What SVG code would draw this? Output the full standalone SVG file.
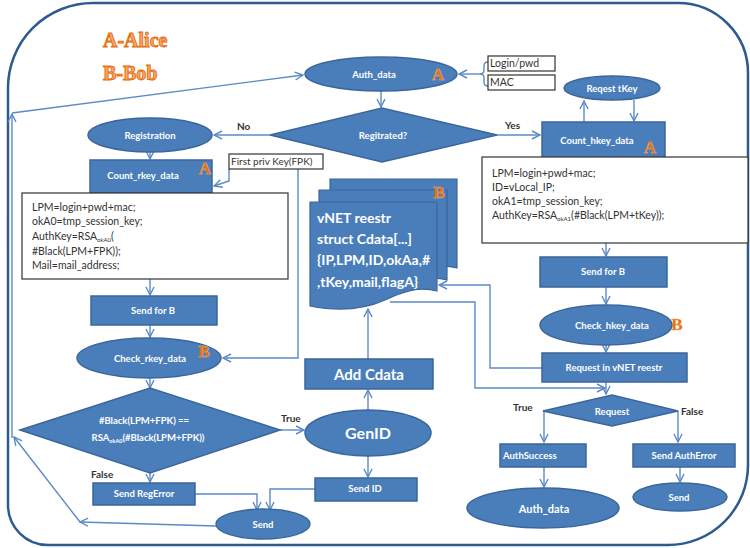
<svg xmlns="http://www.w3.org/2000/svg" width="750" height="548" viewBox="0 0 750 548">
<defs>
<marker id="ar" viewBox="0 0 10 10" refX="9" refY="5" markerWidth="10" markerHeight="10" markerUnits="userSpaceOnUse" orient="auto">
<path d="M1,1 L9,5 L1,9" fill="none" stroke="#5B8AC5" stroke-width="1.4"/>
</marker>
<style>
.n{fill:#4A7EBB;stroke:#3A669C;stroke-width:1.5}
.doc{fill:#4A7EBB;stroke:#3A669C;stroke-width:1.2}
.tb{fill:#fff;stroke:#333;stroke-width:1.2}
.c{fill:none;stroke:#5B8AC5;stroke-width:1.4}
.w{font-family:Lato,"Liberation Sans",sans-serif;font-weight:bold;fill:#fff;font-size:9.5px;text-anchor:middle}
.ws{text-anchor:start}
.k{font-family:Lato,"Liberation Sans",sans-serif;fill:#333;font-size:10.5px}
.lb{font-family:Lato,"Liberation Sans",sans-serif;font-weight:bold;fill:#333;font-size:10px}
.mk{font-family:"Liberation Serif",serif;font-weight:bold;fill:#E46C0A;font-size:17px;text-anchor:middle;stroke:#F9A65A;stroke-width:0.5}
.ttl{font-family:"Liberation Serif",serif;font-weight:bold;fill:#F9A868;stroke:#E46C0A;stroke-width:0.9;font-size:20px}
</style>
</defs>
<rect width="750" height="548" fill="#fff"/>
<path id="frame" d="M8,88 A85,85 0 0 1 93,3 H678 A70,70 0 0 1 748,73 V465 A80,80 0 0 1 668,545 H48 A40,40 0 0 1 8,505 Z" fill="none" stroke="#2E5A8E" stroke-width="2.5"/>
<text class="ttl" x="103" y="47">A-Alice</text>
<text class="ttl" x="103" y="80">B-Bob</text>

<g id="connectors">
<path class="c" d="M381,91 V107" marker-end="url(#ar)"/>
<path class="c" d="M488,62 Q484,62 484,66 L484,70 Q484,74 480,74 Q484,74 484,78 L484,82 Q484,86 488,86"/>
<path class="c" d="M480,74 H459" marker-end="url(#ar)"/>
<path class="c" d="M270,135 H214" marker-end="url(#ar)"/>
<path class="c" d="M497,135 H540" marker-end="url(#ar)"/>
<path class="c" d="M584,122 V101" marker-end="url(#ar)"/>
<path class="c" d="M634,100 V121" marker-end="url(#ar)"/>
<path class="c" d="M606,243 V256" marker-end="url(#ar)"/>
<path class="c" d="M606,287 V304" marker-end="url(#ar)"/>
<path class="c" d="M606,345 V352" marker-end="url(#ar)"/>
<path class="c" d="M542,368 H490 V285 H439" marker-end="url(#ar)"/>
<path class="c" d="M390,302 H475 V388 H605" marker-end="url(#ar)"/>
<path class="c" d="M606,382 V394" marker-end="url(#ar)"/>
<path class="c" d="M544,411 V442" marker-end="url(#ar)"/>
<path class="c" d="M678,411 V442" marker-end="url(#ar)"/>
<path class="c" d="M544,467 V487" marker-end="url(#ar)"/>
<path class="c" d="M680,467 V482" marker-end="url(#ar)"/>
<path class="c" d="M150,152 V159" marker-end="url(#ar)"/>
<path class="c" d="M229,169 V181 L214,186" marker-end="url(#ar)"/>
<path class="c" d="M298,169 V358 H223" marker-end="url(#ar)"/>
<path class="c" d="M150,279 V295" marker-end="url(#ar)"/>
<path class="c" d="M150,325 V337" marker-end="url(#ar)"/>
<path class="c" d="M150,377 V388" marker-end="url(#ar)"/>
<path class="c" d="M280,430 H304" marker-end="url(#ar)"/>
<path class="c" d="M150,473 V482" marker-end="url(#ar)"/>
<path class="c" d="M368,410 V390" marker-end="url(#ar)"/>
<path class="c" d="M368,359 V309" marker-end="url(#ar)"/>
<path class="c" d="M368,456 V477" marker-end="url(#ar)"/>
<path class="c" d="M195,494 H257 V510" marker-end="url(#ar)"/>
<path class="c" d="M315,489 H270 V510" marker-end="url(#ar)"/>
<path class="c" d="M216,526 L80,522" marker-end="url(#ar)"/>
<path class="c" d="M80,522 L14,437" marker-end="url(#ar)"/>
<path class="c" d="M12,438 V114" marker-end="url(#ar)"/>
<path class="c" d="M12,113 L303,75" marker-end="url(#ar)"/>
</g>

<g id="auth_data_top"><ellipse class="n" cx="381" cy="74" rx="76" ry="17"/><text class="w" x="374" y="78">Auth_data</text><text class="mk" x="438" y="80">A</text></g>
<g id="login_pwd"><rect class="tb" x="488" y="56" width="67" height="15"/><text class="k" x="490" y="67">Login/pwd</text></g>
<g id="mac"><rect class="tb" x="488" y="75" width="67" height="15"/><text class="k" x="490" y="86">MAC</text></g>
<g id="registrated"><polygon class="n" points="270,135 382,108 497,135 382,162"/><text class="w" x="383" y="139">Regitrated?</text></g>
<text class="lb" x="237" y="130">No</text>
<text class="lb" x="505" y="129">Yes</text>
<g id="registration"><ellipse class="n" cx="150" cy="135" rx="62" ry="17"/><text class="w" x="150" y="139">Registration</text></g>
<g id="count_hkey"><rect class="n" x="542" y="122" width="123" height="36"/><text class="w" x="597" y="144">Count_hkey_data</text><text class="mk" x="650" y="153">A</text></g>
<g id="reqest_tkey"><ellipse class="n" cx="612" cy="88" rx="48" ry="12"/><text class="w" x="612" y="92">Reqest tKey</text></g>
<g id="hkey_text"><rect class="tb" x="482" y="157" width="266" height="86"/>
<text class="k" x="492" y="177">LPM=login+pwd+mac;</text>
<text class="k" x="492" y="191">ID=vLocal_IP;</text>
<text class="k" x="492" y="205">okA1=tmp_session_key;</text>
<text class="k" x="492" y="219">AuthKey=RSA<tspan font-size="6" dy="2">okA1</tspan><tspan dy="-2">(#Black(LPM+tKey));</tspan></text></g>
<g id="send_for_b_right"><rect class="n" x="540" y="257" width="127" height="30"/><text class="w" x="603" y="275">Send for B</text></g>
<g id="check_hkey"><ellipse class="n" cx="606" cy="325" rx="66" ry="20"/><text class="w" x="612" y="329">Check_hkey_data</text><text class="mk" x="677" y="330">B</text></g>
<g id="request_vnet"><rect class="n" x="542" y="353" width="145" height="29"/><text class="w" x="614" y="371">Request in vNET reestr</text></g>
<g id="request"><polygon class="n" points="543,411 612,395 678,411 612,426"/><text class="w" x="612" y="415">Request</text></g>
<text class="lb" x="513" y="411">True</text>
<text class="lb" x="681" y="415">False</text>
<g id="authsuccess"><rect class="n" x="500" y="444" width="86" height="23"/><text class="w ws" x="503" y="459">AuthSuccess</text></g>
<g id="send_autherror"><rect class="n" x="633" y="444" width="102" height="23"/><text class="w" x="684" y="459">Send AuthError</text></g>
<g id="auth_data_bottom"><ellipse class="n" cx="543" cy="508" rx="76" ry="20"/><text class="w" x="544" y="513" style="font-size:11px">Auth_data</text></g>
<g id="send_right"><ellipse class="n" cx="680" cy="497" rx="47" ry="14"/><text class="w" x="679" y="501">Send</text></g>

<g id="count_rkey"><rect class="n" x="90" y="160" width="122" height="33"/><text class="w" x="143" y="179">Count_rkey_data</text><text class="mk" x="205" y="174">A</text></g>
<g id="fpk"><rect class="tb" x="229" y="154" width="94" height="15"/><text class="k" x="231" y="165" style="font-size:10px">First priv Key(FPK)</text></g>
<g id="rkey_text"><rect class="tb" x="22" y="193" width="266" height="86"/>
<text class="k" x="32" y="211">LPM=login+pwd+mac;</text>
<text class="k" x="32" y="225">okA0=tmp_session_key;</text>
<text class="k" x="32" y="240">AuthKey=RSA<tspan font-size="6" dy="2">okA0</tspan><tspan dy="-2">(</tspan></text>
<text class="k" x="32" y="255">#Black(LPM+FPK));</text>
<text class="k" x="32" y="269">Mail=mail_address;</text></g>
<g id="send_for_b_left"><rect class="n" x="91" y="296" width="126" height="29"/><text class="w" x="153" y="314">Send for B</text></g>
<g id="check_rkey"><ellipse class="n" cx="149" cy="358" rx="72" ry="20"/><text class="w" x="150" y="362">Check_rkey_data</text><text class="mk" x="204" y="357">B</text></g>
<g id="check_diamond"><polygon class="n" points="20,430 150,388 280,430 150,473"/>
<text class="w" x="144" y="424">#Black(LPM+FPK) ==</text>
<text class="w" x="148" y="441">RSA<tspan font-size="5.5" dy="1.5">okA0</tspan><tspan dy="-1.5">(#Black(LPM+FPK))</tspan></text></g>
<text class="lb" x="281" y="422">True</text>
<text class="lb" x="91" y="478">False</text>
<g id="send_regerror"><rect class="n" x="93" y="483" width="102" height="22"/><text class="w" x="144" y="497">Send RegError</text></g>
<g id="send_left"><ellipse class="n" cx="263" cy="524" rx="47" ry="15"/><text class="w" x="263" y="528">Send</text></g>
<g id="genid"><ellipse class="n" cx="368" cy="433" rx="63" ry="23"/><text class="w" x="368" y="439" style="font-size:16px">GenID</text></g>
<g id="send_id"><rect class="n" x="315" y="478" width="102" height="23"/><text class="w" x="365" y="492">Send ID</text></g>
<g id="add_cdata"><rect class="n" x="305" y="359" width="128" height="30"/><text class="w" x="369" y="380" style="font-size:15px">Add Cdata</text></g>
<g id="vnet_reestr">
<path class="doc" d="M330,179 H457 V268 C438,263 422,269 405,277 C385,286 360,289 330,283 Z"/>
<path class="doc" d="M319,190 H447 V280 C428,275 412,281 395,289 C375,298 350,301 319,295 Z"/>
<path class="doc" d="M310,202 H437 V291 C418,286 402,292 385,300 C365,309 340,312 310,306 Z"/>
<text class="mk" x="439" y="198">B</text>
<g style="font-family:Lato,'Liberation Sans',sans-serif;fill:#fff;font-size:14px;font-weight:bold">
<text x="317" y="223">vNET reestr</text>
<text x="317" y="244">struct Cdata[...]</text>
<text x="317" y="265">{IP,LPM,ID,okAa,#</text>
<text x="317" y="287">,tKey,mail,flagA}</text>
</g>
</g>
</svg>
